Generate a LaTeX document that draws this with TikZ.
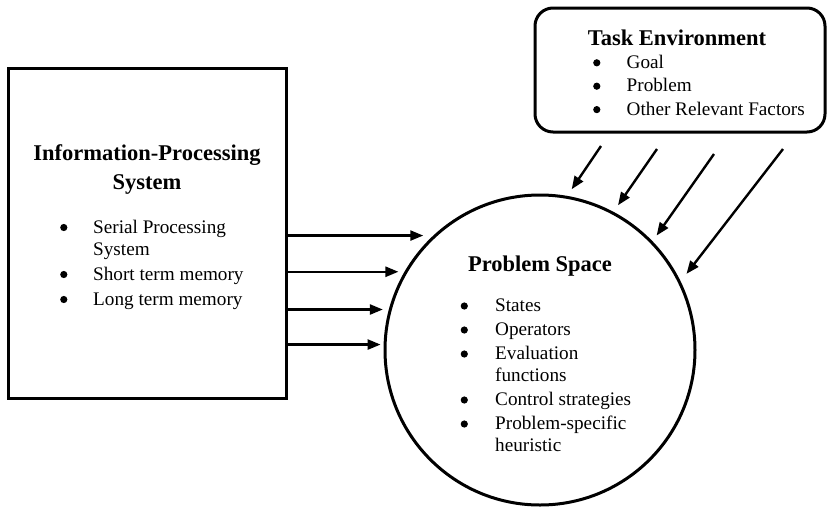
\documentclass[tikz,border=0pt]{standalone}
\usepackage{fontspec}
\setmainfont{Liberation Serif}
\usetikzlibrary{arrows.meta}

\newcommand{\bodysize}{\fontsize{19.2}{22}\selectfont}
\newcommand{\headsize}{\fontsize{22.5}{29}\selectfont\bfseries}
\newcommand{\blt}{\tikz[baseline={(0pt,-5.5pt)}] \fill (3.6pt,0pt) circle (3.6pt);}

\begin{document}
\begin{tikzpicture}[x=1pt, y=-1pt,
		every node/.style={inner sep=0pt},
		frame/.style={draw, line width=3pt},
		heading/.style={font=\headsize, anchor=base},
		items/.style={font=\bodysize, anchor=base west},
		arr/.style={line width=2.4pt, -{Triangle[length=13pt,width=10pt]}}]
	\useasboundingbox (0,0) rectangle (828,507);
	% the three blocks
	\node [frame, minimum width=278pt, minimum height=330pt] (ips) at (147,233) {};
	\node [frame, circle, minimum size=310pt] (ps) at (540,350) {};
	\node [frame, rounded corners=18pt, minimum width=290pt, minimum height=124pt] (te) at (680,70) {};
	% their texts
	\node [heading] (ipstitle) at (147,160) {\begin{tabular}[t]{@{}c@{}}Information-Processing\\System\end{tabular}};
	\node [items] (ipslist) at (60,233) {\begin{tabular}[t]{@{}p{33pt}@{}l@{}}
			\blt & Serial Processing\\
			& System\\[3pt]
			\blt & Short term memory\\[3pt]
			\blt & Long term memory
		\end{tabular}};
	\node [heading] (pstitle) at (540,271) {Problem Space};
	\node [items] (pslist) at (460.5,311.5) {\begin{tabular}[t]{@{}p{34.5pt}@{}l@{}}
			\blt & States\\[2pt]
			\blt & Operators\\[2pt]
			\blt & Evaluation\\
			& functions\\[2pt]
			\blt & Control strategies\\[2pt]
			\blt & Problem-specific\\
			& heuristic
		\end{tabular}};
	\node [heading] (tetitle) at (677,45) {Task Environment};
	\node [items] (telist) at (593,68.3) {\begin{tabular}[t]{@{}p{33.5pt}@{}l@{}}
			\blt & Goal\\[1.4pt]
			\blt & Problem\\[1.4pt]
			\blt & Other Relevant Factors
		\end{tabular}};
	% tails of the arrows from the task environment
	\coordinate (t1) at (601,146);
	\coordinate (t2) at (657,149);
	\coordinate (t3) at (714,154);
	\coordinate (t4) at (783,149);
	\path [arr]
		(ips.east |- ps.133.25) edge [shorten >=10pt] (ps.133.25)
		(ips.east |- ps.150.95) edge [shorten >=6pt] (ps.150.95)
		(ips.east |- ps.165.2) edge [shorten >=6pt] (ps.165.2)
		(ips.east |- ps.178.5) edge [shorten >=3pt] (ps.178.5)
		(t1) edge [shorten >=8pt] (ps.80.6)
		(t2) edge [shorten >=8pt] (ps.62.2)
		(t3) edge [shorten >=7pt] (ps.44.8)
		(t4) edge [shorten >=9.5pt] (ps.26.4);
\end{tikzpicture}
\end{document}
